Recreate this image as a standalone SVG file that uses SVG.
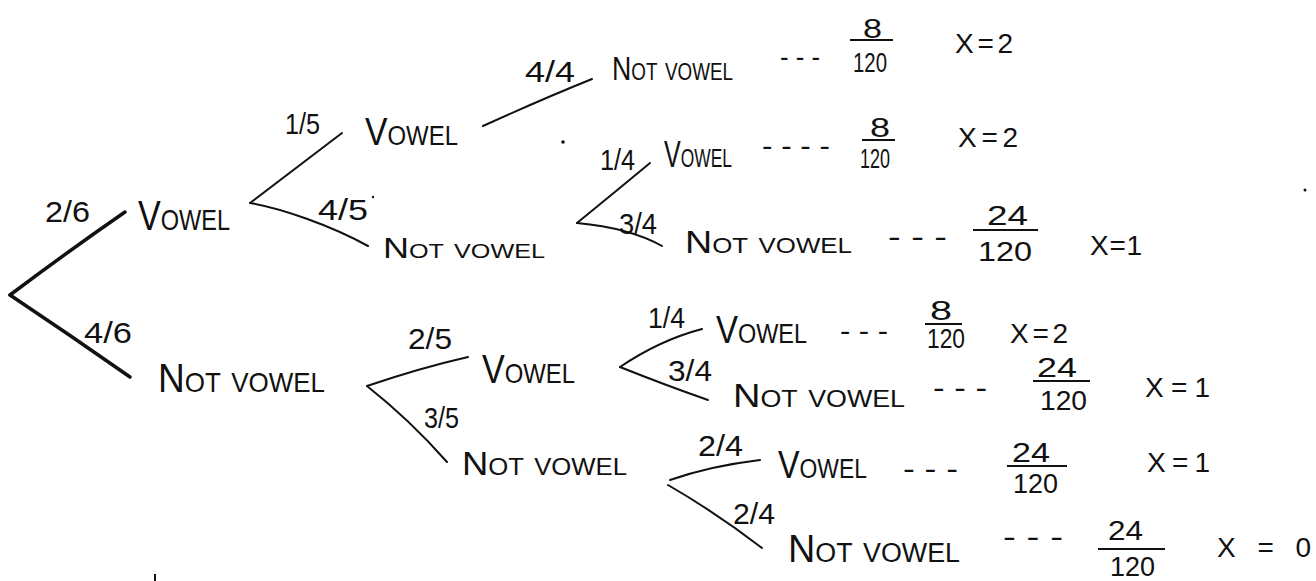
<svg xmlns="http://www.w3.org/2000/svg" width="1316" height="581" viewBox="0 0 1316 581">
<style>
  .lab { font-family: "Liberation Sans", Arial, sans-serif; fill: #111; font-variant: small-caps; }
  .p { font-family: "Liberation Sans", Arial, sans-serif; fill: #111; font-size: 30px; }
  .d { font-family: "Liberation Sans", Arial, sans-serif; fill: #111; font-size: 28px; }
  .x { font-family: "Liberation Sans", Arial, sans-serif; fill: #111; font-size: 28px; }
  .bar { stroke: #111; stroke-width: 2; }
  .edge { fill: none; stroke: #111; stroke-width: 2; stroke-linecap: round; }
  .thick { stroke-width: 3.5; }
</style>
<rect width="1316" height="581" fill="#fff"/>

<g id="connectors">
  <path class="edge thick" d="M10,295 Q70,250 125,212"/>
  <path class="edge thick" d="M10,295 Q70,335 130,377"/>
  <path class="edge" d="M250,203 Q300,165 342,133"/>
  <path class="edge" d="M250,203 C280,208 330,225 368,246"/>
  <path class="edge" d="M367,386 Q420,368 468,357"/>
  <path class="edge" d="M367,386 Q410,420 447,462"/>
  <path class="edge" d="M483,126 Q540,100 592,79"/>
  <path class="edge" d="M577,223 Q615,192 650,163"/>
  <path class="edge" d="M577,223 Q630,228 662,246"/>
  <path class="edge" d="M620,367 Q660,340 702,329"/>
  <path class="edge" d="M620,367 Q665,385 708,400"/>
  <path class="edge" d="M670,480 Q710,466 760,460"/>
  <path class="edge" d="M668,485 Q715,512 762,548"/>
  <g id="edge-labels">
    <text class="p" x="45" y="222" font-size="32" textLength="45" lengthAdjust="spacingAndGlyphs">2/6</text>
    <text class="p" x="84" y="343" font-size="34" textLength="48" lengthAdjust="spacingAndGlyphs">4/6</text>
    <text class="p" x="285" y="134" font-size="32" textLength="35" lengthAdjust="spacingAndGlyphs">1/5</text>
    <text class="p" x="318" y="220" textLength="50" lengthAdjust="spacingAndGlyphs">4/5</text>
    <text class="p" x="525" y="82" textLength="50" lengthAdjust="spacingAndGlyphs">4/4</text>
    <text class="p" x="600" y="170" textLength="35" lengthAdjust="spacingAndGlyphs">1/4</text>
    <text class="p" x="619" y="234" textLength="38" lengthAdjust="spacingAndGlyphs">3/4</text>
    <text class="p" x="408" y="349" font-size="32" textLength="44" lengthAdjust="spacingAndGlyphs">2/5</text>
    <text class="p" x="424" y="428" font-size="32" textLength="35" lengthAdjust="spacingAndGlyphs">3/5</text>
    <text class="p" x="648" y="328" textLength="37" lengthAdjust="spacingAndGlyphs">1/4</text>
    <text class="p" x="668" y="381" textLength="44" lengthAdjust="spacingAndGlyphs">3/4</text>
    <text class="p" x="698" y="456" textLength="45" lengthAdjust="spacingAndGlyphs">2/4</text>
    <text class="p" x="733" y="524" textLength="42" lengthAdjust="spacingAndGlyphs">2/4</text>
  </g>
</g>

<g id="root"></g>

<g id="n-vowel">
  <text class="lab" x="138" y="230" font-size="42" textLength="92" lengthAdjust="spacingAndGlyphs">Vowel</text>
</g>
<g id="n-notvowel">
  <text class="lab" x="158" y="392" font-size="40" textLength="167" lengthAdjust="spacingAndGlyphs">Not vowel</text>
</g>

<g id="n-v-v">
  <text class="lab" x="365" y="145" font-size="38" textLength="93" lengthAdjust="spacingAndGlyphs">Vowel</text>
</g>
<g id="n-v-nv">
  <text class="lab" x="383" y="258" font-size="30" textLength="162" lengthAdjust="spacingAndGlyphs">Not vowel</text>
</g>
<g id="n-nv-v">
  <text class="lab" x="482" y="383" font-size="40" textLength="93" lengthAdjust="spacingAndGlyphs">Vowel</text>
</g>
<g id="n-nv-nv">
  <text class="lab" x="462" y="475" font-size="34" textLength="165" lengthAdjust="spacingAndGlyphs">Not vowel</text>
</g>

<g id="leaf-v-v-nv">
  <text class="lab" x="612" y="80" font-size="34" textLength="121" lengthAdjust="spacingAndGlyphs">Not vowel</text>
  <text class="d" x="780" y="66" textLength="40" lengthAdjust="spacingAndGlyphs">- - -</text>
  <text class="d" x="863" y="38" textLength="19" lengthAdjust="spacingAndGlyphs">8</text>
  <line class="bar" x1="850" y1="40" x2="893" y2="40"/>
  <text class="d" x="853" y="72" textLength="34" lengthAdjust="spacingAndGlyphs">120</text>
  <text class="x" x="955" y="53" textLength="58" lengthAdjust="spacing">X = 2</text>
</g>

<g id="leaf-v-nv-v">
  <text class="lab" x="664" y="167" font-size="36" textLength="68" lengthAdjust="spacingAndGlyphs">Vowel</text>
  <text class="d" x="762" y="155" textLength="68" lengthAdjust="spacingAndGlyphs">- - - -</text>
  <text class="d" x="870" y="137" textLength="20" lengthAdjust="spacingAndGlyphs">8</text>
  <line class="bar" x1="862" y1="140" x2="895" y2="140"/>
  <text class="d" x="860" y="168" textLength="30" lengthAdjust="spacingAndGlyphs">120</text>
  <text class="x" x="958" y="147" textLength="60" lengthAdjust="spacing">X = 2</text>
</g>

<g id="leaf-v-nv-nv">
  <text class="lab" x="685" y="253" font-size="32" textLength="167" lengthAdjust="spacingAndGlyphs">Not vowel</text>
  <text class="d" x="888" y="246" textLength="59" lengthAdjust="spacingAndGlyphs">- - -</text>
  <text class="d" x="987" y="225" textLength="41" lengthAdjust="spacingAndGlyphs">24</text>
  <line class="bar" x1="973" y1="230" x2="1038" y2="230"/>
  <text class="d" x="978" y="261" textLength="54" lengthAdjust="spacingAndGlyphs">120</text>
  <text class="x" x="1090" y="255" font-size="28" textLength="52" lengthAdjust="spacing">X = 1</text>
</g>

<g id="leaf-nv-v-v">
  <text class="lab" x="716" y="343" font-size="38" textLength="91" lengthAdjust="spacingAndGlyphs">Vowel</text>
  <text class="d" x="840" y="340" textLength="48" lengthAdjust="spacingAndGlyphs">- - -</text>
  <text class="d" x="930" y="320" textLength="22" lengthAdjust="spacingAndGlyphs">8</text>
  <line class="bar" x1="925" y1="324" x2="962" y2="324"/>
  <text class="d" x="927" y="348" textLength="38" lengthAdjust="spacingAndGlyphs">120</text>
  <text class="x" x="1010" y="343" textLength="58" lengthAdjust="spacing">X = 2</text>
</g>

<g id="leaf-nv-v-nv">
  <text class="lab" x="733" y="407" font-size="34" textLength="172" lengthAdjust="spacingAndGlyphs">Not vowel</text>
  <text class="d" x="933" y="397" textLength="54" lengthAdjust="spacingAndGlyphs">- - -</text>
  <text class="d" x="1037" y="377" textLength="40" lengthAdjust="spacingAndGlyphs">24</text>
  <line class="bar" x1="1033" y1="381" x2="1090" y2="381"/>
  <text class="d" x="1040" y="410" textLength="47" lengthAdjust="spacingAndGlyphs">120</text>
  <text class="x" x="1145" y="397" textLength="65" lengthAdjust="spacing">X = 1</text>
</g>

<g id="leaf-nv-nv-v">
  <text class="lab" x="778" y="478" font-size="38" textLength="89" lengthAdjust="spacingAndGlyphs">Vowel</text>
  <text class="d" x="903" y="478" textLength="55" lengthAdjust="spacingAndGlyphs">- - -</text>
  <text class="d" x="1012" y="462" textLength="38" lengthAdjust="spacingAndGlyphs">24</text>
  <line class="bar" x1="1007" y1="466" x2="1067" y2="466"/>
  <text class="d" x="1013" y="493" textLength="45" lengthAdjust="spacingAndGlyphs">120</text>
  <text class="x" x="1147" y="472" textLength="63" lengthAdjust="spacing">X = 1</text>
</g>

<g id="leaf-nv-nv-nv">
  <text class="lab" x="788" y="562" font-size="38" textLength="172" lengthAdjust="spacingAndGlyphs">Not vowel</text>
  <text class="d" x="1003" y="546" textLength="60" lengthAdjust="spacingAndGlyphs">- - -</text>
  <text class="d" x="1108" y="540" textLength="35" lengthAdjust="spacingAndGlyphs">24</text>
  <line class="bar" x1="1098" y1="549" x2="1165" y2="549"/>
  <text class="d" x="1110" y="576" font-size="26" textLength="45" lengthAdjust="spacingAndGlyphs">120</text>
  <text class="x" x="1217" y="557" font-size="34" textLength="94" lengthAdjust="spacing">X = 0</text>
</g>

<g id="marks" fill="#111">
  <circle cx="563" cy="142" r="1.8"/>
  <circle cx="1305" cy="190" r="1.5"/>
  <circle cx="373" cy="197" r="1.2"/>
  <rect x="154" y="574" width="2" height="7"/>
</g>
</svg>
